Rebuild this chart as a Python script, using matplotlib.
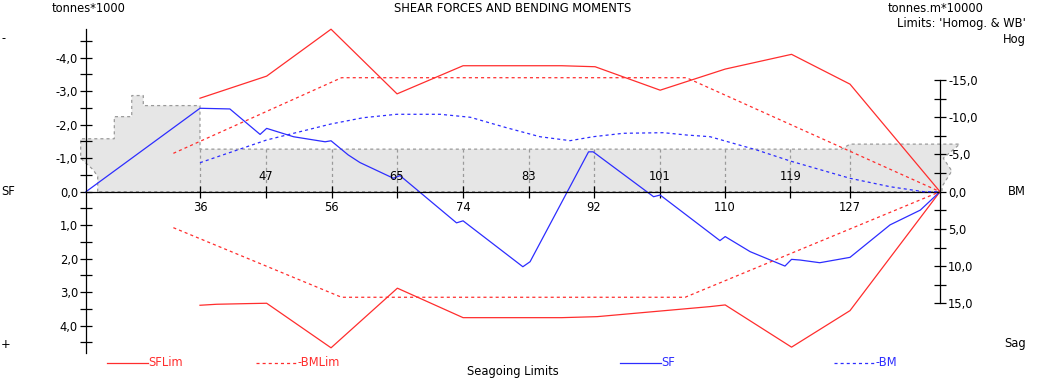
import matplotlib
matplotlib.use('Agg')
import matplotlib.pyplot as plt
from matplotlib.ticker import FixedLocator, FuncFormatter, NullFormatter
from matplotlib.lines import Line2D

plt.rcParams['font.family'] = ['DejaVu Sans']
plt.rcParams['lines.scale_dashes'] = False

# ---------------- data (x: position along ship in m, 0..130) ----------------
frame_labels = [36, 47, 56, 65, 74, 83, 92, 101, 110, 119, 127]
frame_pos = [17.35, 27.4, 37.4, 47.35, 57.4, 67.4, 77.3, 87.4, 97.2, 107.2, 116.3]

# Shear force limits (tonnes*1000), hog side (negative) and sag side (positive)
sflim_neg_x = [17.35, 27.5, 37.3, 47.35, 57.4, 72.4, 77.5, 87.4, 97.3, 107.4, 116.3, 130.0]
sflim_neg_y = [-2.79, -3.45, -4.85, -2.92, -3.76, -3.76, -3.73, -3.03, -3.66, -4.10, -3.21, 0.0]
sflim_pos_x = [17.35, 19.9, 24.7, 27.5, 37.3, 47.4, 57.4, 72.4, 77.8, 95.0, 97.3, 107.4, 116.3, 130.0]
sflim_pos_y = [3.39, 3.36, 3.34, 3.33, 4.66, 2.88, 3.76, 3.76, 3.73, 3.43, 3.38, 4.64, 3.55, 0.0]

# Bending moment limits (tonnes.m*10000)
bmlim_hog_x = [13.3, 38.9, 91.4, 130.0]
bmlim_hog_y = [-5.15, -15.3, -15.3, 0.0]
bmlim_sag_x = [13.3, 38.9, 91.2, 130.0]
bmlim_sag_y = [4.83, 14.17, 14.17, 0.0]

# Actual shear force
sf_x = [0.0, 17.35, 21.9, 26.5, 27.5, 31.6, 36.4, 37.3, 39.9, 41.7, 46.8, 47.8,
        56.4, 57.4, 66.5, 67.6, 76.5, 77.2, 86.4, 87.4, 96.5, 97.3, 101.1,
        106.4, 107.4, 108.7, 111.7, 116.3, 122.4, 127.0, 130.0]
sf_y = [0.0, -2.49, -2.47, -1.71, -1.89, -1.64, -1.49, -1.52, -1.10, -0.87, -0.40, -0.48,
        0.93, 0.87, 2.24, 2.09, -1.19, -1.19, 0.15, 0.10, 1.46, 1.34, 1.79,
        2.22, 2.02, 2.04, 2.12, 1.96, 0.99, 0.55, 0.0]

# Actual bending moment (plotted as -BM)
bm_x = [17.35, 27.5, 37.3, 42.2, 47.3, 53.9, 58.5, 64.0, 69.1, 73.7, 77.2, 81.8,
        87.9, 91.4, 95.0, 102.1, 107.2, 116.3, 122.4, 127.5, 130.0]
bm_y = [-3.89, -6.94, -9.09, -9.93, -10.39, -10.39, -9.99, -8.59, -7.38, -6.85, -7.38, -7.84,
        -7.92, -7.61, -7.38, -5.60, -4.12, -1.80, -0.67, 0.0, 0.0]

# Ship profile silhouette (in SF axis units)
profile_x = [1.78, 1.78, 1.11, -0.81, -0.81, 4.31, 4.31, 6.96, 6.96, 8.72, 8.72, 17.35,
             17.35, 115.0, 116.3, 133.0, 130.5, 131.8, 130.3, 130.3]
profile_y = [0.0, -0.45, -0.65, -1.0, -1.58, -1.58, -2.24, -2.24, -2.87, -2.87, -2.57, -2.57,
             -1.27, -1.27, -1.42, -1.42, -1.0, -0.62, -0.15, 0.0]

sf_ticks = [-4, -3, -2, -1, 0, 1, 2, 3, 4]
bm_ticks = [-15, -10, -5, 0, 5, 10, 15]

RED = '#ff2d2d'
BLUE = '#2d2dff'
GREY = '#9a9a9a'
FS = 8.3

W, H = 1039, 379
fig = plt.figure(figsize=(W / 100, H / 100), dpi=100)
ax = fig.add_axes([0, 0, 1, 1])
ax.patch.set_visible(False)
ax.set_xlim(-13.092, 145.07)
ax.set_ylim(5.591, -5.722)

# profile
ax.fill(profile_x, profile_y, facecolor='#e6e6e6', edgecolor=GREY, lw=0.9,
        linestyle=(0, (2.2, 2.2)), zorder=1)
ax.vlines(frame_pos, -1.27, 0, colors=GREY, lw=0.9, linestyles=[(0, (2.2, 2.2))], zorder=1.5)

ax.plot(sflim_neg_x, sflim_neg_y, color=RED, lw=0.9, zorder=3)
ax.plot(sflim_pos_x, sflim_pos_y, color=RED, lw=0.9, zorder=3)
ax.plot(sf_x, sf_y, color=BLUE, lw=0.9, zorder=3)

# spines
for s in ['top', 'right']:
    ax.spines[s].set_visible(False)
ax.spines['left'].set_position(('data', 0))
ax.spines['left'].set_bounds(-4.85, 4.82)
ax.spines['bottom'].set_position(('data', 0))
ax.spines['bottom'].set_bounds(0, 130)
for s in ['left', 'bottom']:
    ax.spines[s].set_linewidth(0.9)
    ax.spines[s].set_zorder(4)

fmt = FuncFormatter(lambda v, p: f"{v:.1f}".replace('.', ','))
ax.yaxis.set_major_locator(FixedLocator(sf_ticks))
ax.yaxis.set_minor_locator(FixedLocator([t + 0.5 for t in range(-5, 5) if -4.6 < t + 0.5 < 4.6]))
ax.yaxis.set_major_formatter(fmt)
ax.yaxis.set_minor_formatter(NullFormatter())
ax.tick_params(axis='y', which='both', direction='inout', length=8.6, width=0.9, pad=1.5,
               labelsize=FS)
ax.set_xticks(frame_pos)
ax.set_xticklabels([''] * len(frame_pos))
ax.tick_params(axis='x', which='both', direction='inout', length=8.6, width=0.9)

for i, (p, lab) in enumerate(zip(frame_pos, frame_labels)):
    off = -11.5 if i % 2 == 0 else 11
    ax.annotate(str(lab), xy=(p, 0), xytext=(0, off), textcoords='offset points',
                ha='center', va='center', fontsize=FS, zorder=5)

# BM axis
ax2 = ax.twinx()
ax2.set_ylim(25.14, -25.73)
ax2.plot(bmlim_hog_x, bmlim_hog_y, color=RED, lw=0.9, linestyle=(0, (2.2, 2.2)))
ax2.plot(bmlim_sag_x, bmlim_sag_y, color=RED, lw=0.9, linestyle=(0, (2.2, 2.2)))
ax2.plot(bm_x, bm_y, color=BLUE, lw=0.9, linestyle=(0, (2.2, 2.2)))
for s in ['top', 'left', 'bottom']:
    ax2.spines[s].set_visible(False)
ax2.spines['right'].set_position(('data', 130))
ax2.spines['right'].set_bounds(-15, 15)
ax2.spines['right'].set_linewidth(0.9)
ax2.yaxis.set_major_locator(FixedLocator(bm_ticks))
ax2.yaxis.set_minor_locator(FixedLocator([-12.5, -7.5, -2.5, 2.5, 7.5, 12.5]))
ax2.yaxis.set_major_formatter(fmt)
ax2.yaxis.set_minor_formatter(NullFormatter())
ax2.tick_params(axis='y', which='both', direction='inout', length=8.6, width=0.9, pad=1.5,
                labelsize=FS)


def ftext(x, y, s, ha='left', color='black', **kw):
    fig.text(x / W, 1 - y / H, s, ha=ha, va='center', color=color, fontsize=FS, **kw)


ftext(52, 8, 'tonnes*1000')
ftext(512.5, 8, 'SHEAR FORCES AND BENDING MOMENTS', ha='center')
ftext(983, 8, 'tonnes.m*10000', ha='right')
ftext(1026, 23, "Limits: 'Homog. & WB'", ha='right')
ftext(1026, 40, 'Hog', ha='right')
ftext(1026, 344, 'Sag', ha='right')
ftext(1026, 191.7, 'BM', ha='right')
ftext(1, 191.7, 'SF')
ftext(2, 39, '-')
ftext(1, 344, '+')
ftext(513, 371, 'Seagoing Limits', ha='center')

# legend
legend_items = [
    (107, 148, 'SFLim', RED, '-'),
    (256, 298, '-BMLim', RED, (0, (2.2, 2.2))),
    (620, 661, 'SF', BLUE, '-'),
    (834, 875, '-BM', BLUE, (0, (2.2, 2.2))),
]
for x0, x1, lab, col, ls in legend_items:
    fig.add_artist(Line2D([x0 / W, x1 / W], [1 - 362.5 / H] * 2, color=col, lw=0.9,
                          linestyle=ls, transform=fig.transFigure))
    ftext(x1, 362.5, lab, color=col)

fig.savefig('out.png', dpi=100)
